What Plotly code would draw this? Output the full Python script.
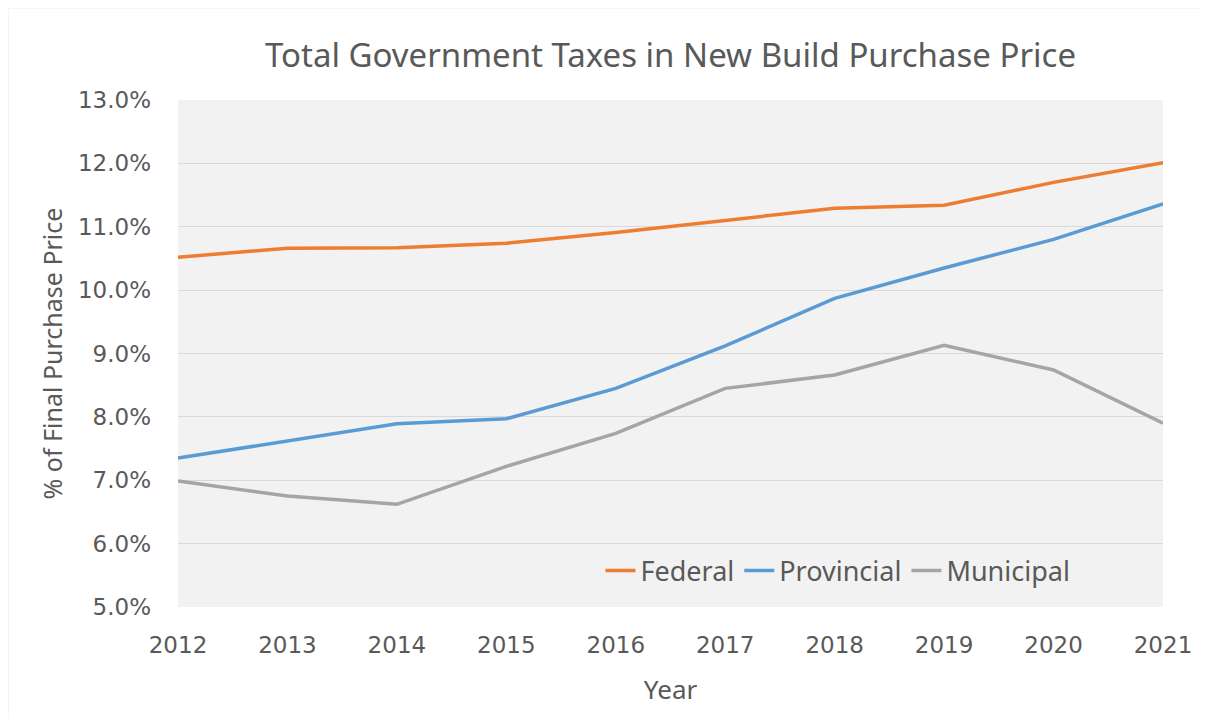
import plotly.graph_objects as go

years = [2012, 2013, 2014, 2015, 2016, 2017, 2018, 2019, 2020, 2021]
federal = [10.52, 10.66, 10.67, 10.74, 10.91, 11.10, 11.29, 11.34, 11.70, 12.01]
provincial = [7.35, 7.62, 7.89, 7.97, 8.45, 9.12, 9.87, 10.35, 10.80, 11.36]
municipal = [6.99, 6.75, 6.62, 7.22, 7.74, 8.45, 8.66, 9.13, 8.74, 7.90]

series = [
    ("Federal", federal, "#ED7D31"),
    ("Provincial", provincial, "#5B9BD5"),
    ("Municipal", municipal, "#A5A5A5"),
]

# page has an 8px body margin, so the figure is drawn 8px in from the corner
W, H = 1192, 710
ml, mr, mt, mb = 170, 37, 92, 111
pw, ph = W - ml - mr, H - mt - mb

fig = go.Figure()
for name, vals, color in series:
    fig.add_trace(go.Scatter(
        x=years,
        y=[v / 100 for v in vals],
        name=name,
        mode="lines",
        line=dict(color=color, width=3.5),
    ))

text_col = "#595959"

fig.update_layout(
    width=W,
    height=H,
    margin=dict(l=ml, r=mr, t=mt, b=mb),
    paper_bgcolor="white",
    plot_bgcolor="#F2F2F2",
    title=dict(
        text="Total Government Taxes in New Build Purchase Price",
        xref="paper", x=0.5, xanchor="center",
        y=1 - 47 / H, yanchor="middle",
        font=dict(family="Noto Sans", size=33, color=text_col),
    ),
    xaxis=dict(
        range=[2012, 2021],
        tickvals=years,
        automargin=False,
        showgrid=False,
        zeroline=False,
        showline=False,
        ticks="",
        ticklabelstandoff=22,
        tickfont=dict(family="DejaVu Sans", size=23, color=text_col),
        title=dict(text="Year", font=dict(family="Noto Sans", size=26, color=text_col), standoff=23),
    ),
    yaxis=dict(
        range=[0.05, 0.13],
        dtick=0.01,
        tickformat=".1%",
        automargin=False,
        showgrid=True,
        gridcolor="#D9D9D9",
        gridwidth=1,
        zeroline=False,
        showline=False,
        ticks="",
        ticklabelstandoff=26,
        tickfont=dict(family="DejaVu Sans", size=23, color=text_col),
        title=dict(text="% of Final Purchase Price", font=dict(family="Noto Sans", size=25, color=text_col), standoff=8),
    ),
    legend=dict(
        orientation="h",
        x=0.67, xanchor="center",
        y=0.071, yanchor="middle",
        bgcolor="rgba(0,0,0,0)",
        font=dict(family="Noto Sans", size=27, color=text_col),
        itemwidth=30,
    ),
    shapes=[
        dict(type="line", xref="paper", yref="paper",
             x0=-ml / pw, x1=1 + mr / pw, y0=1 + mt / ph, y1=1 + mt / ph,
             line=dict(color="#EBEBEB", width=1)),
        dict(type="line", xref="paper", yref="paper",
             x0=-ml / pw, x1=-ml / pw, y0=-mb / ph, y1=1 + mt / ph,
             line=dict(color="#EBEBEB", width=1)),
    ],
)

fig.write_html("out.html")
